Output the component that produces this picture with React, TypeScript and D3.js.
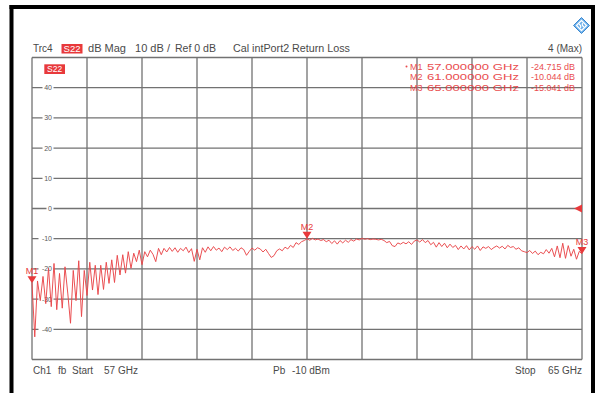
import React from "react";
import * as d3 from "d3";

const F_START = 57;
const F_STOP = 65;
const Y_MIN = -50;
const Y_MAX = 50;

// S22 trace (dB), 201 points swept linearly from 57 GHz to 65 GHz
const S22_DB: number[] = [
  -24.7, -42.5, -24.0, -30.5, -22.5, -31.5, -19.8, -32.5, -18.2, -33.5,
  -21.5, -33.0, -19.3, -28.0, -38.0, -20.5, -30.5, -17.3, -35.8, -20.5,
  -28.8, -17.8, -27.0, -18.8, -28.5, -18.8, -26.8, -17.8, -24.8, -17.0,
  -24.5, -15.5, -22.0, -15.3, -21.4, -14.3, -19.8, -14.8, -17.6, -13.8,
  -18.6, -14.3, -16.0, -13.8, -15.2, -17.6, -13.2, -15.3, -13.2, -14.4,
  -12.9, -14.2, -13.0, -14.5, -13.2, -14.0, -12.8, -14.6, -13.3, -17.5,
  -13.5, -17.0, -13.0, -14.5, -12.7, -14.0, -12.6, -13.8, -13.1, -14.3,
  -12.8, -13.6, -12.7, -13.9, -13.2, -14.1, -13.0, -13.6, -15.5, -14.2,
  -13.1, -13.8, -13.0, -13.4, -14.4, -13.5, -14.9, -16.2, -15.6, -14.0,
  -13.4, -14.0, -12.8, -13.4, -12.2, -12.9, -11.3, -11.9, -11.0, -10.6,
  -10.04, -10.5, -9.9, -10.4, -10.1, -10.6, -10.3, -11.0, -10.5, -11.6,
  -10.7, -11.8, -10.6, -11.4, -10.5, -11.2, -10.3, -10.8, -10.1, -10.4,
  -9.9, -10.2, -10.0, -10.3, -10.1, -10.2, -10.4, -10.2, -10.6, -11.3,
  -10.9, -12.3, -12.6, -11.4, -11.8, -11.2, -11.7, -11.0, -11.9, -10.8,
  -10.4, -11.1, -10.3, -11.3, -10.6, -12.0, -11.2, -12.8, -11.3, -12.6,
  -11.5, -13.0, -11.8, -12.9, -12.2, -13.6, -12.4, -13.4, -12.3, -13.7,
  -12.6, -13.5, -12.4, -13.9, -12.7, -13.2, -12.6, -13.6, -12.9, -12.4,
  -13.1, -12.5, -13.4, -12.2, -12.9, -12.6, -13.5, -13.0, -14.0, -14.3,
  -14.6, -13.9, -14.9, -14.1, -15.3, -14.5, -15.0, -13.6, -14.8, -13.2,
  -16.0, -12.4, -16.3, -11.5, -16.5, -12.3, -15.8, -13.5, -16.8, -14.2,
  -15.04,
];

const Y_TICKS = [40, 30, 20, 10, 0, -10, -20, -30, -40];

const MARKER_NAMES = ["M1", "M2", "M3"];
const MARKER_FREQ = [57, 61, 65];
const MARKER_DB = [-24.715, -10.044, -15.041];
const MARKER_FREQ_TEXT = ["57.000000 GHz", "61.000000 GHz", "65.000000 GHz"];
const MARKER_DB_TEXT = ["-24.715 dB", "-10.044 dB", "-15.041 dB"];

const RED = "#e8393b";
const GRID = "#727272";
const TEXT = "#4a4a4a";
const FONT = "'Liberation Sans', Arial, Helvetica, sans-serif";

export default function App() {
  const W = 595;
  const H = 393;
  const L = 32, R = 582, T = 57.5, B = 359.5;

  const x = d3.scaleLinear().domain([F_START, F_STOP]).range([L, R]);
  const y = d3.scaleLinear().domain([Y_MIN, Y_MAX]).range([B, T]);

  const n = S22_DB.length;
  const pts: [number, number][] = S22_DB.map((v, i) => [
    F_START + (i * (F_STOP - F_START)) / (n - 1),
    v,
  ]);
  const line = d3
    .line<[number, number]>()
    .x((d) => x(d[0]))
    .y((d) => y(d[1]));

  const xGrid = d3.range(0, 11).map((k) => F_START + (k * (F_STOP - F_START)) / 10);
  const yGrid = d3.range(-50, 51, 10);

  const tri = (cx: number, tipY: number) =>
    `M${cx - 4.5},${tipY - 7} L${cx + 4.5},${tipY - 7} L${cx},${tipY} Z`;

  return (
    <svg
      width={W}
      height={H}
      viewBox={`0 0 ${W} ${H}`}
      style={{ position: "absolute", left: 0, top: 0, background: "#fff" }}
      fontFamily={FONT}
    >
      <rect x={0} y={0} width={W} height={H} fill="#fff" />
      {/* outer black frame */}
      <rect x={9.5} y={5} width={585.5} height={4} fill="#000" />
      <rect x={9.5} y={5} width={4} height={H - 5} fill="#000" />
      <rect x={591} y={5} width={4} height={H - 5} fill="#000" />

      {/* logo */}
      <g transform="translate(581.5,25.5)">
        <path d="M0,-8 L8,0 L0,8 L-8,0 Z" fill="#6db0ea" stroke="#3b88d0" strokeWidth={1} />
        <path d="M0,-5 L5,0 L0,5 L-5,0 Z" fill="none" stroke="#fff" strokeWidth={1.3} />
        <path d="M-2.5,-1.5 Q0,0 -1,2.5 M2.5,1.5 Q0,0 1,-2.5" fill="none" stroke="#fff" strokeWidth={1.1} />
      </g>

      {/* header */}
      <g fontSize={10} fill={TEXT}>
        <text x={33} y={52}>Trc4</text>
        <rect x={61.5} y={44} width={21} height={9.5} fill={RED} />
        <text x={72} y={52} fill="#fff" textAnchor="middle" fontSize={9.5}>S22</text>
        <text x={88} y={52} textLength={38} lengthAdjust="spacingAndGlyphs">dB Mag</text>
        <text x={135} y={52} textLength={35} lengthAdjust="spacingAndGlyphs">10 dB /</text>
        <text x={175} y={52} textLength={41} lengthAdjust="spacingAndGlyphs">Ref 0 dB</text>
        <text x={233} y={52} textLength={117} lengthAdjust="spacingAndGlyphs">Cal intPort2 Return Loss</text>
        <text x={582} y={52} textAnchor="end">4 (Max)</text>
      </g>

      {/* grid */}
      <g stroke={GRID} strokeWidth={1.3}>
        {xGrid.map((f, i) => (
          <line key={"vx" + i} x1={x(f)} x2={x(f)} y1={T} y2={B} />
        ))}
        {yGrid.map((v, i) => (
          <line key={"hy" + i} x1={L} x2={R} y1={y(v)} y2={y(v)} />
        ))}
      </g>

      {/* y tick labels */}
      <g fontSize={7} fill="#5a5a5a">
        {Y_TICKS.map((v) => {
          const s = String(v);
          const w = s.length * 4 + 3;
          return (
            <g key={"yt" + v}>
              <rect x={52.5 - w + 1} y={y(v) - 3} width={w} height={6} fill="#fff" />
              <text x={52} y={y(v) + 2.5} textAnchor="end">{s}</text>
            </g>
          );
        })}
      </g>

      {/* inner trace label */}
      <rect x={44.3} y={64.3} width={20.7} height={9.7} fill={RED} />
      <text x={54.6} y={72.3} fontSize={8.5} fill="#fff" textAnchor="middle">S22</text>

      {/* marker table */}
      <g fontSize={9} fill={RED} opacity={0.9}>
        {MARKER_NAMES.map((m, i) => (
          <g key={"mt" + m}>
            {i === 0 && <circle cx={406.5} cy={66.5} r={1} fill={RED} />}
            <text x={410} y={70 + i * 10.4}>{m}</text>
            <text x={427} y={70 + i * 10.4} textLength={92} lengthAdjust="spacingAndGlyphs">{MARKER_FREQ_TEXT[i]}</text>
            <text x={575} y={70 + i * 10.4} textAnchor="end">{MARKER_DB_TEXT[i]}</text>
          </g>
        ))}
      </g>

      {/* trace */}
      <path d={line(pts) || ""} fill="none" stroke="#e9474a" strokeWidth={0.95} strokeLinejoin="round" />

      {/* reference level arrow */}
      <path d={`M${R},${y(0) - 4} L${R},${y(0) + 4} L${R - 8},${y(0)} Z`} fill={RED} />

      {/* markers */}
      <g fill={RED}>
        {MARKER_NAMES.map((m, i) => {
          const cx = x(MARKER_FREQ[i]);
          const cy = y(MARKER_DB[i]);
          return (
            <g key={"mk" + m}>
              <path d={tri(cx, cy)} />
              <text x={cx} y={cy - 9} fontSize={9} textAnchor="middle">
                {m}
              </text>
            </g>
          );
        })}
      </g>

      {/* footer */}
      <g fontSize={10} fill={TEXT}>
        <text x={33} y={374}>Ch1</text>
        <text x={58} y={374}>fb</text>
        <text x={72} y={374}>Start</text>
        <text x={104} y={374}>57 GHz</text>
        <text x={273} y={374}>Pb</text>
        <text x={292} y={374}>-10 dBm</text>
        <text x={515} y={374}>Stop</text>
        <text x={582} y={374} textAnchor="end">65 GHz</text>
      </g>
    </svg>
  );
}
